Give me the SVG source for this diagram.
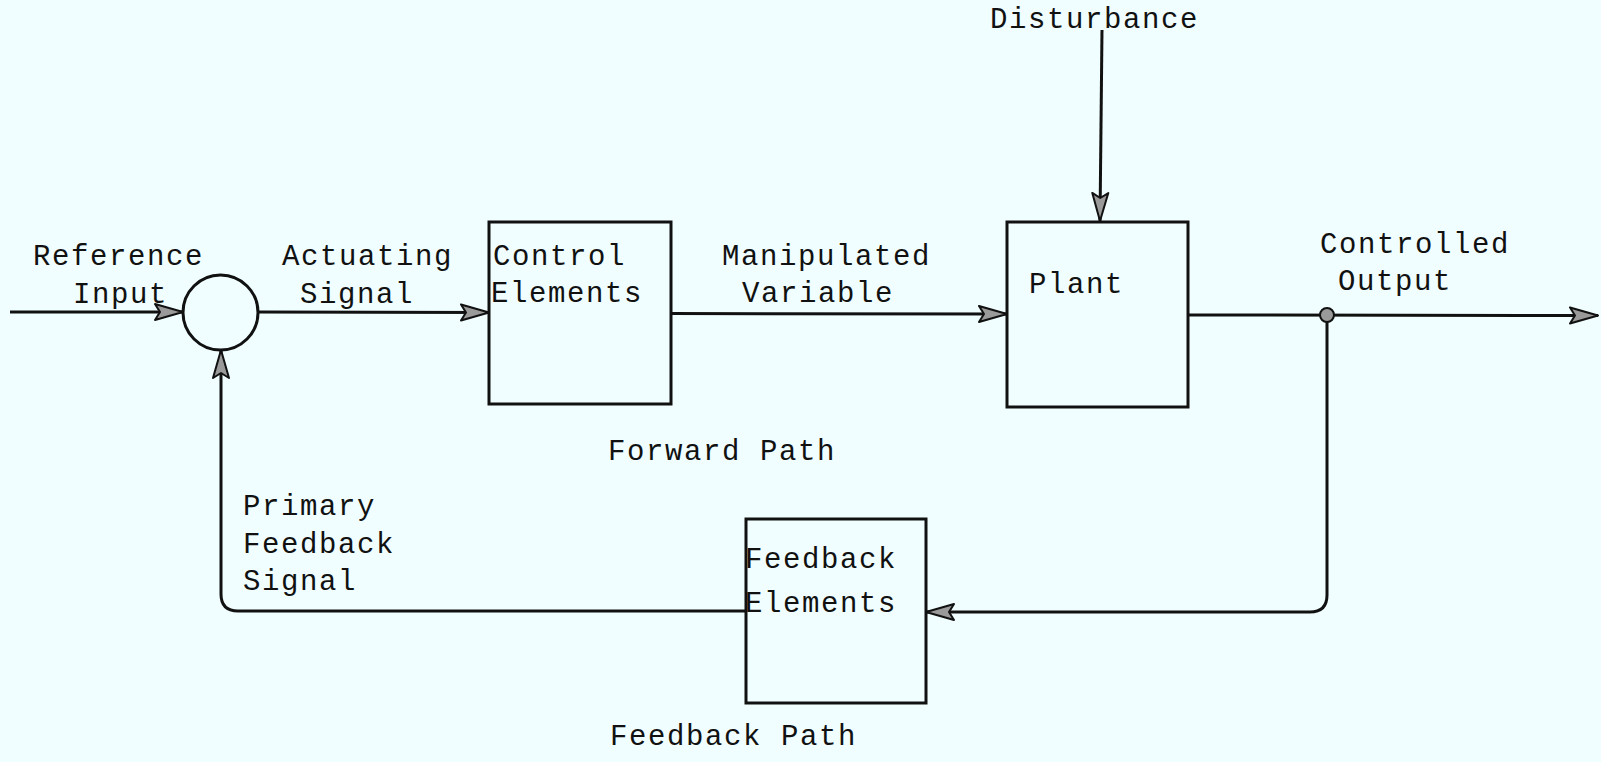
<svg xmlns="http://www.w3.org/2000/svg" width="1601" height="762" viewBox="0 0 1601 762">
<style>
.bg{fill:#F0FEFF}
.box{fill:none;stroke:#111;stroke-width:3}
.ln{fill:none;stroke:#111;stroke-width:3}
.t{font-family:"Liberation Mono","DejaVu Sans Mono",monospace;font-size:29px;letter-spacing:1.6px;fill:#111}
</style>
<defs>
<marker id="ah" viewBox="0 0 30 20" refX="29" refY="10" markerWidth="30" markerHeight="20" markerUnits="userSpaceOnUse" orient="auto">
<path d="M1,2 L29,10 L1,18 L6,10 Z" fill="#9a9a9a" stroke="#111" stroke-width="2" stroke-linejoin="round"/>
</marker>
</defs>
<rect class="bg" x="0" y="0" width="1601" height="762"/>

<g id="connectors">
<line class="ln" x1="10" y1="312" x2="183" y2="312" marker-end="url(#ah)"/>
<line class="ln" x1="258" y1="312" x2="489" y2="312.5" marker-end="url(#ah)"/>
<line class="ln" x1="671" y1="313.5" x2="1007" y2="314" marker-end="url(#ah)"/>
<line class="ln" x1="1102" y1="30" x2="1100" y2="221" marker-end="url(#ah)"/>
<line class="ln" x1="1188" y1="315" x2="1598" y2="315.5" marker-end="url(#ah)"/>
<path class="ln" d="M1327,315 V595 Q1327,612 1310,612 H926" marker-end="url(#ah)"/>
<path class="ln" d="M746,611 H238 Q221,611 221,594 V350" marker-end="url(#ah)"/>
<circle cx="1327" cy="315" r="7" fill="#9a9a9a" stroke="#111" stroke-width="2"/>
</g>

<g id="summing-junction">
<circle cx="220.5" cy="312.5" r="37.5" fill="none" stroke="#111" stroke-width="3"/>
</g>

<g id="control-elements">
<rect class="box" x="489" y="222" width="182" height="182"/>
<text class="t" x="493" y="265">Control</text>
<text class="t" x="491" y="302">Elements</text>
</g>

<g id="plant">
<rect class="box" x="1007" y="222" width="181" height="185"/>
<text class="t" x="1029" y="293">Plant</text>
</g>

<g id="feedback-elements">
<rect class="box" x="746" y="519" width="180" height="184"/>
<text class="t" x="745" y="568">Feedback</text>
<text class="t" x="745" y="612">Elements</text>
</g>

<g id="labels">
<text class="t" x="33" y="265">Reference</text>
<text class="t" x="73" y="303">Input</text>
<text class="t" x="282" y="265">Actuating</text>
<text class="t" x="300" y="303">Signal</text>
<text class="t" x="722" y="265">Manipulated</text>
<text class="t" x="742" y="302">Variable</text>
<text class="t" x="990" y="28">Disturbance</text>
<text class="t" x="1320" y="253">Controlled</text>
<text class="t" x="1338" y="290">Output</text>
<text class="t" x="608" y="460">Forward Path</text>
<text class="t" x="243" y="515">Primary</text>
<text class="t" x="243" y="553">Feedback</text>
<text class="t" x="243" y="590">Signal</text>
<text class="t" x="610" y="745">Feedback Path</text>
</g>
</svg>
